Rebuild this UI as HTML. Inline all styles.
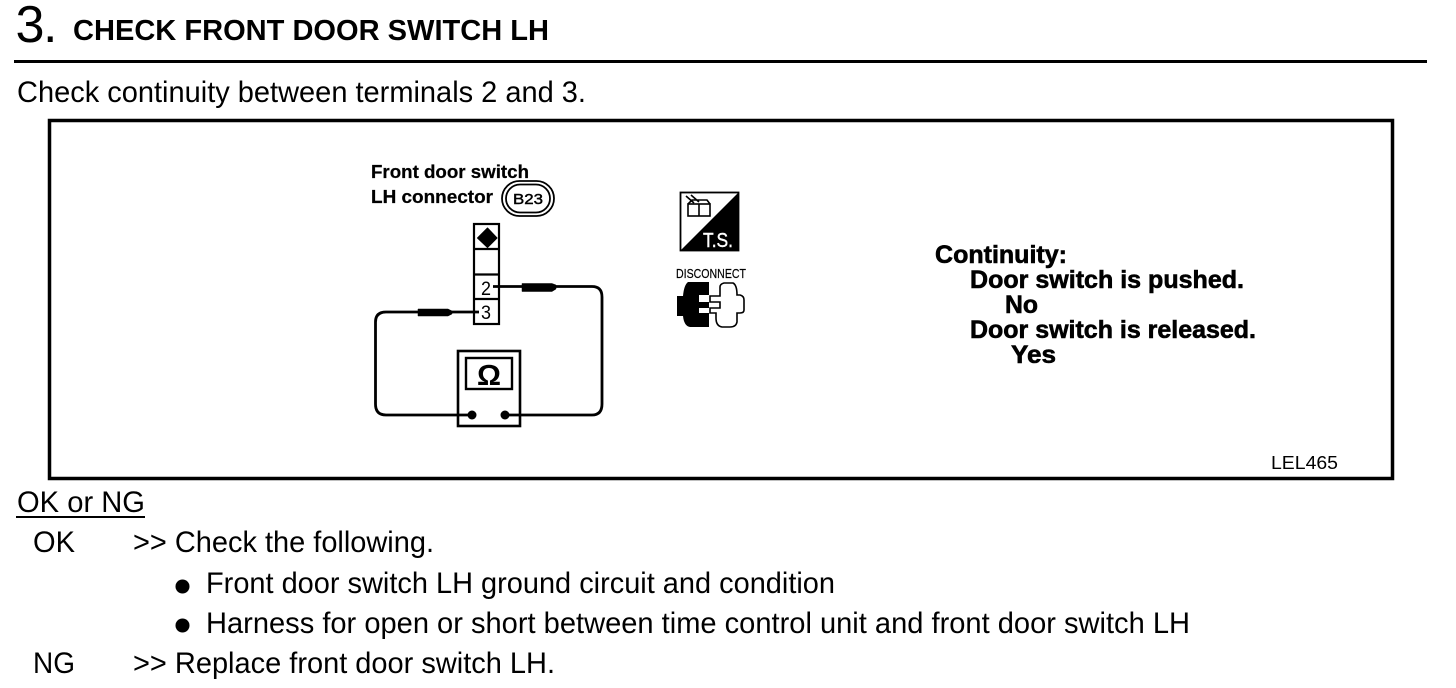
<!DOCTYPE html>
<html><head><meta charset="utf-8"><style>
html,body{margin:0;padding:0;background:#fff;width:1456px;height:688px;overflow:hidden}
svg{display:block}
text{font-family:"Liberation Sans",Arial,sans-serif;fill:#000;white-space:pre}
.b{font-weight:bold}
.n{font-size:30px}
.c{font-size:25px;font-weight:bold;stroke:#000;stroke-width:.6px}
.s{font-size:18.500px;font-weight:bold;stroke:#000;stroke-width:.25px}
</style></head><body>
<svg width="1456" height="688" viewBox="0 0 1456 688" xmlns="http://www.w3.org/2000/svg">
<rect width="1456" height="688" fill="#fff"/>
<text x="15.500" y="42" font-size="52" textLength="29" lengthAdjust="spacingAndGlyphs">3</text>
<text x="43" y="42" font-size="52">.</text>
<text x="73" y="40" class="b" font-size="29" textLength="476" lengthAdjust="spacingAndGlyphs">CHECK FRONT DOOR SWITCH LH</text>
<rect x="14" y="60" width="1413" height="3"/>
<text x="17" y="102" class="n" textLength="569" lengthAdjust="spacingAndGlyphs">Check continuity between terminals 2 and 3.</text>
<rect x="49.500" y="120.500" width="1343" height="358" fill="none" stroke="#000" stroke-width="3.500"/>

<text x="371" y="178" class="s" textLength="158" lengthAdjust="spacingAndGlyphs">Front door switch</text>
<text x="371" y="203" class="s" textLength="122" lengthAdjust="spacingAndGlyphs">LH connector</text>
<rect x="502" y="181" width="52" height="35" rx="17.500" fill="none" stroke="#000" stroke-width="1.800"/>
<rect x="506" y="184.500" width="44" height="28" rx="14" fill="none" stroke="#000" stroke-width="1.800"/>
<text x="513" y="204" font-size="15" textLength="30" lengthAdjust="spacingAndGlyphs" stroke="#000" stroke-width=".45">B23</text>

<g fill="none" stroke="#000" stroke-width="2.200">
<rect x="474" y="224" width="25" height="100" fill="#fff"/>
<path d="M474 249H499M474 274.500H499M474 299H499"/>
<rect x="458" y="351" width="62" height="75" stroke-width="2.600"/>
<rect x="466" y="358" width="46" height="31" stroke-width="2.400"/>
</g>
<path d="M487.500 228 L497 238 L487.500 247.500 L477.500 238Z" stroke="#000" stroke-linejoin="round"/>
<text x="481" y="295" font-size="19" textLength="10" lengthAdjust="spacingAndGlyphs">2</text>
<text x="481" y="319" font-size="19" textLength="10" lengthAdjust="spacingAndGlyphs">3</text>
<text x="477" y="385" font-size="29" class="b" textLength="24" lengthAdjust="spacingAndGlyphs">Ω</text>
<g fill="none" stroke="#000" stroke-width="2.800">
<path d="M479 312H386Q375.500 312 375.500 322V404Q375.500 415 386 415H472"/>
<path d="M493 286.500H592Q602 286.500 602 297V404Q602 415 592 415H505"/>
</g>
<path d="M418 309H448L452 311V314L448 316H418Z" stroke="#000" stroke-width=".5" stroke-linejoin="round"/>
<path d="M522 283.500H552L556 285V289L552 291.500H522Z" stroke="#000" stroke-width=".5" stroke-linejoin="round"/>
<circle cx="472" cy="415" r="4.500"/>
<circle cx="505" cy="415" r="4.500"/>

<g>
<rect x="680.500" y="192.500" width="58" height="58" fill="#fff" stroke="#000" stroke-width="1.800"/>
<path d="M739 192V251H680Z"/>
<g fill="none" stroke="#000" stroke-width="1.600">
<rect x="688" y="204" width="22" height="12" fill="#fff"/>
<path d="M699 204V216M688 204L692 200H707L710 204M686 196L694 203M691 195L699 202"/>
</g>
<text x="703" y="247" font-size="20" textLength="30" lengthAdjust="spacingAndGlyphs" style="fill:#fff;stroke:#fff;stroke-width:.4px">T.S.</text>
</g>
<text x="676" y="278" font-size="13" textLength="70" lengthAdjust="spacingAndGlyphs" stroke="#000" stroke-width=".2">DISCONNECT</text>
<path d="M688 282H709V295H699V302H709V308H699V313H709V327H690Q684 326 683 316H677V296H683Q684 285 688 282Z"/>
<path d="M724 283H733Q737 285 737 295H740Q744 296 744 300V310Q744 313 740 313H737V322Q736 327 730 327H722Q716 326 716 318V313H710V308H720V302H710V296H720V287Q720 284 724 283Z" fill="#fff" stroke="#000" stroke-width="1.600"/>

<text x="935" y="263" class="c" textLength="132" lengthAdjust="spacingAndGlyphs">Continuity:</text>
<text x="970" y="288" class="c" textLength="274" lengthAdjust="spacingAndGlyphs">Door switch is pushed.</text>
<text x="1005" y="313" class="c" textLength="33" lengthAdjust="spacingAndGlyphs">No</text>
<text x="970" y="338" class="c" textLength="286" lengthAdjust="spacingAndGlyphs">Door switch is released.</text>
<text x="1011" y="363" class="c" textLength="45" lengthAdjust="spacingAndGlyphs">Yes</text>

<text x="1271" y="469" font-size="18.500" textLength="67" lengthAdjust="spacingAndGlyphs">LEL465</text>

<text x="17" y="512" class="n" textLength="128" lengthAdjust="spacingAndGlyphs">OK or NG</text>
<rect x="16" y="516" width="129" height="2"/>
<text x="33" y="552" class="n" textLength="42" lengthAdjust="spacingAndGlyphs">OK</text>
<text x="133" y="552" class="n" textLength="301" lengthAdjust="spacingAndGlyphs">&gt;&gt; Check the following.</text>
<circle cx="182.500" cy="586.500" r="7"/>
<text x="206" y="593" class="n" textLength="629" lengthAdjust="spacingAndGlyphs">Front door switch LH ground circuit and condition</text>
<circle cx="182.500" cy="625.500" r="7"/>
<text x="206" y="633" class="n" textLength="984" lengthAdjust="spacingAndGlyphs">Harness for open or short between time control unit and front door switch LH</text>
<text x="33" y="673" class="n" textLength="42" lengthAdjust="spacingAndGlyphs">NG</text>
<text x="133" y="673" class="n" textLength="422" lengthAdjust="spacingAndGlyphs">&gt;&gt; Replace front door switch LH.</text>
</svg>
</body></html>
